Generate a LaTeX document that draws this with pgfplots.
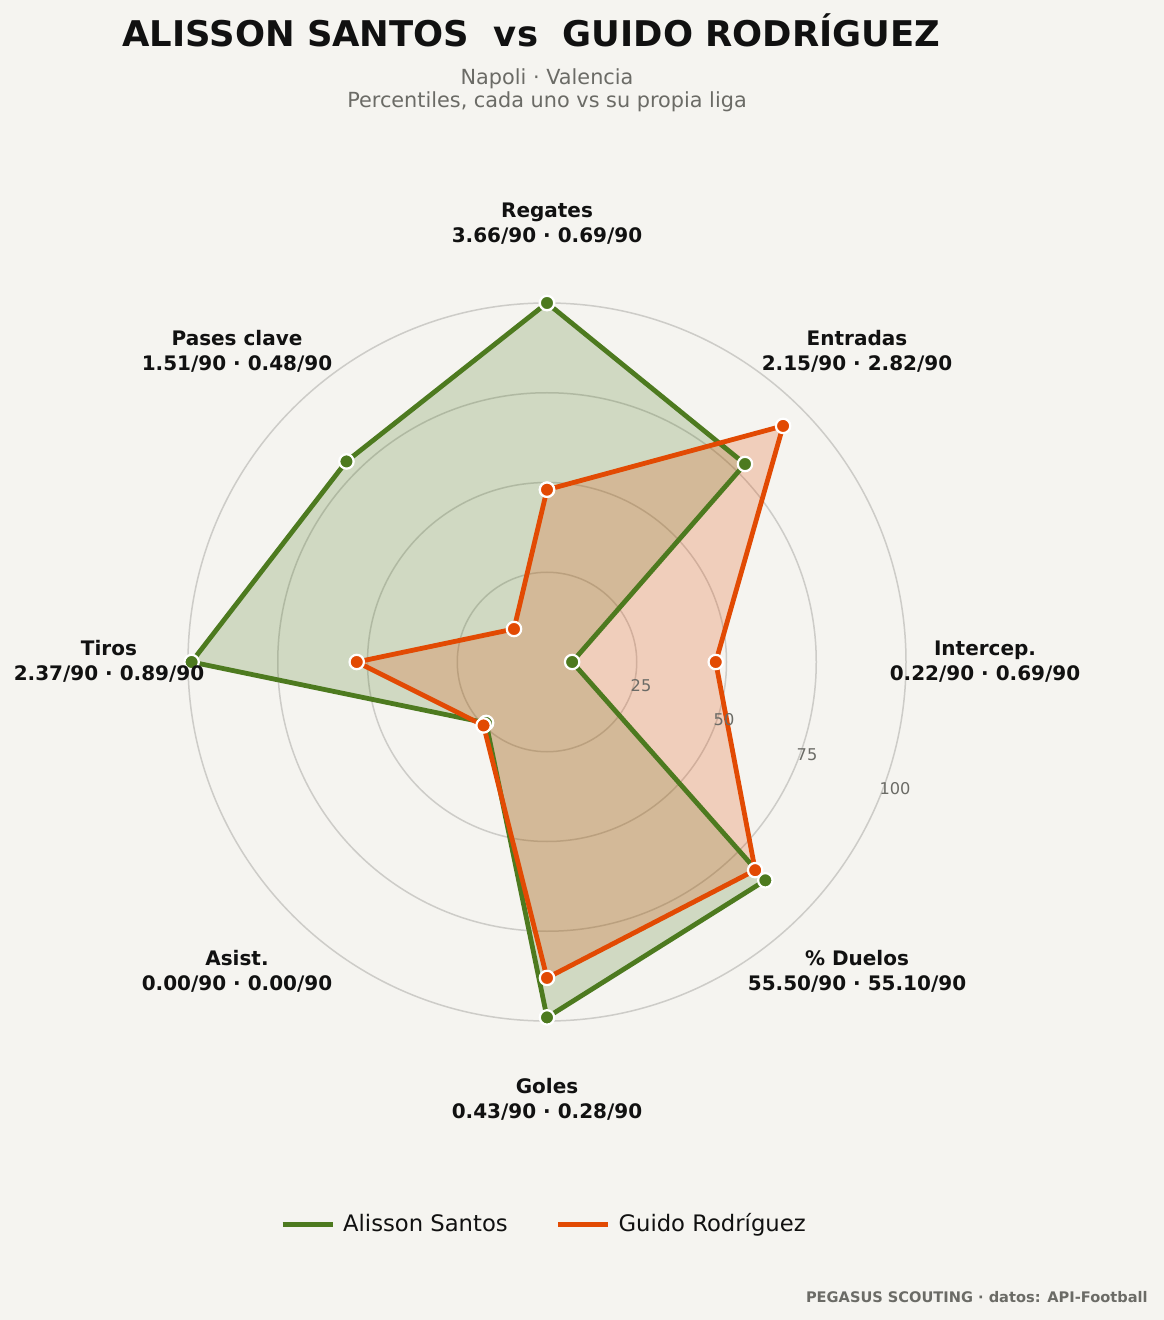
\documentclass[border=0pt]{standalone}
\usepackage{pgfplots}
\pgfplotsset{compat=1.18}
\usepgfplotslibrary{polar}
\usepackage{fontspec}
\setmainfont{DejaVu Sans}
\definecolor{bg}{RGB}{245,244,240}
\definecolor{ggreen}{RGB}{77,122,31}
\definecolor{gorange}{RGB}{226,74,3}
\definecolor{txt}{RGB}{17,17,17}
\definecolor{subg}{RGB}{107,107,102}
\definecolor{gridc}{RGB}{205,204,200}
\pgfplotstableread{
ang alisson guido
90   100 48
45   78  93
0    7   47
-45  86  82
-90  99  88
-135 24  25
180  99  53
135  79  13
90   100 48
}\radar
\begin{document}
\begin{tikzpicture}
\fill[bg] (0,0) rectangle (582bp,660bp);
\useasboundingbox (0,0) rectangle (582bp,660bp);
\begin{polaraxis}[
  at={(273.5bp,329bp)}, anchor=origin,
  width=359bp, height=359bp, scale only axis,
  ymin=0, ymax=100,
  xtick=\empty,
  ytick={25,50,75,100}, yticklabels={},
  xmajorgrids=false, ymajorgrids=true,
  major grid style={gridc, line width=0.75bp},
  major tick length=0pt,
  axis line style={draw=none},
  clip=false,
  legend columns=2,
  legend style={at={(0.5,-0.283)}, anchor=center, draw=none, fill=none,
    font=\fontsize{11.35bp}{13bp}\selectfont\color{txt},
    /tikz/every even column/.append style={column sep=20bp},
    nodes={inner xsep=4bp, inner ysep=0pt},
    inner sep=0pt},
  legend image code/.code={\draw[#1, line width=2.4bp, fill=none] (0bp,0bp) -- (25bp,0bp);},
]
\addplot[draw=none, fill=ggreen, fill opacity=0.22, forget plot] table[x=ang, y=alisson] {\radar};
\addplot[draw=none, fill=gorange, fill opacity=0.22, forget plot] table[x=ang, y=guido] {\radar};
\addplot[ggreen, line width=2.4bp,
  mark=*, mark size=3.6bp, mark options={fill=ggreen, draw=white, line width=1.1bp}]
  table[x=ang, y=alisson] {\radar};
\addlegendentry{Alisson Santos}
\addplot[gorange, line width=2.4bp,
  mark=*, mark size=3.6bp, mark options={fill=gorange, draw=white, line width=1.1bp}]
  table[x=ang, y=guido] {\radar};
\addlegendentry{Guido Rodríguez}
\end{polaraxis}
% ring labels
\begin{scope}[every node/.style={font=\fontsize{8.1bp}{10bp}\selectfont, text=subg}]
\node at (320.5bp,317bp) {25};
\node at (362bp,300bp) {50};
\node at (403.5bp,282.5bp) {75};
\node at (447.5bp,265.5bp) {100};
\end{scope}
% category labels
\begin{scope}[every node/.style={font=\bfseries\fontsize{10bp}{12.5bp}\selectfont, text=txt, align=center}]
\node at (273.5bp,548.25bp) {Regates\\3.66/90 · 0.69/90};
\node at (428.5bp,484.25bp) {Entradas\\2.15/90 · 2.82/90};
\node at (492.5bp,329.25bp) {Intercep.\\0.22/90 · 0.69/90};
\node at (428.5bp,174.25bp) {\% Duelos\\55.50/90 · 55.10/90};
\node at (273.5bp,110.25bp) {Goles\\0.43/90 · 0.28/90};
\node at (118.5bp,174.25bp) {Asist.\\0.00/90 · 0.00/90};
\node at (54.5bp,329.25bp) {Tiros\\2.37/90 · 0.89/90};
\node at (118.5bp,484.25bp) {Pases clave\\1.51/90 · 0.48/90};
\end{scope}
% titles
\node[font=\bfseries\fontsize{17.7bp}{22bp}\selectfont, text=txt] at (265.75bp,645bp) {ALISSON SANTOS\ \ vs\ \ GUIDO RODRÍGUEZ};
\node[font=\fontsize{10.4bp}{11.5bp}\selectfont, text=subg, align=center] at (273.5bp,615bp) {Napoli · Valencia\\Percentiles, cada uno vs su propia liga};
\node[font=\bfseries\fontsize{7.3bp}{9bp}\selectfont, text=subg, anchor=east, inner sep=0pt] at (574bp,11.5bp) {PEGASUS SCOUTING · datos: API-Football};
\end{tikzpicture}
\end{document}
